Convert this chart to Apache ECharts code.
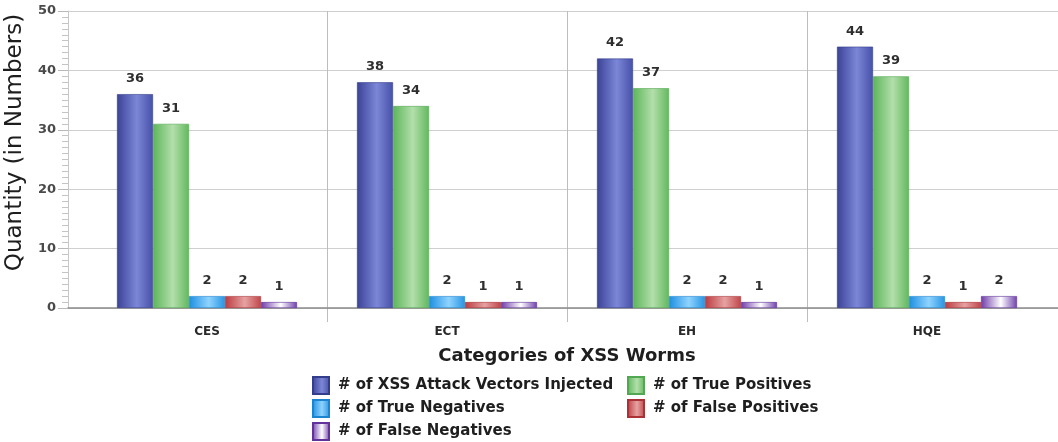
<!DOCTYPE html>
<html>
<head>
<meta charset="utf-8">
<script src="https://cdn.jsdelivr.net/npm/echarts@6/dist/echarts.min.js"></script>
<style>
  html, body { margin: 0; padding: 0; background: #ffffff; }
  #chart { width: 1058px; height: 442px; }
</style>
</head>
<body>
<div id="chart"></div>
<script>
// Worm categories on the x axis
const categories = ['CES', 'ECT', 'EH', 'HQE'];

// Detection results per category
const attackVectors   = [36, 38, 42, 44];
const truePositives   = [31, 34, 37, 39];
const trueNegatives   = [2, 2, 2, 2];
const falsePositives  = [2, 1, 2, 1];
const falseNegatives  = [1, 1, 1, 2];

const seriesNames = [
  '# of XSS Attack Vectors Injected',
  '# of True Positives',
  '# of True Negatives',
  '# of False Positives',
  '# of False Negatives'
];

const yTicks = [0, 10, 20, 30, 40, 50];

const FONT = '"DejaVu Sans", Verdana, sans-serif';

// Plot geometry (pixels)
const PLOT_TOP = 11;
const PLOT_BOTTOM = 134;          // distance from the chart's bottom edge to the zero line
const PLOT_H = 442 - PLOT_TOP - PLOT_BOTTOM;
const SEP_DROP = 14;              // separators run this far below the zero line

const yMax = yTicks[yTicks.length - 1];

// Horizontal shading for the cylinder-like bars
function shade(edgeL, mid, edgeR) {
  return {
    type: 'linear', x: 0, y: 0, x2: 1, y2: 0,
    colorStops: [
      { offset: 0, color: edgeL },
      { offset: 0.55, color: mid },
      { offset: 1, color: edgeR }
    ]
  };
}
const fills = [
  shade('#3a4296', '#7c87d8', '#4550a8'),
  shade('#5cb55a', '#b3dfab', '#62b85e'),
  shade('#1e8fe0', '#8ed3ff', '#2894e2'),
  shade('#bb3a3e', '#e6a2a2', '#c04448'),
  shade('#6e3aa8', '#ffffff', '#7040ac')
];
const borders = ['#343c8c', '#52a852', '#1a84d0', '#aa3236', '#60329a'];

const valueSets = [attackVectors, truePositives, trueNegatives, falsePositives, falseNegatives];

const chart = echarts.init(document.getElementById('chart'), null, { renderer: 'canvas' });

const legendText = {
  color: '#1e1e1e', fontFamily: FONT, fontWeight: 'bold', fontSize: 15,
  padding: [0, 0, 0, 4]
};
const legendBase = {
  top: 376, height: 66, padding: 0, orient: 'vertical',
  itemGap: 4, itemWidth: 16, itemHeight: 17, icon: 'rect', textStyle: legendText
};

const option = {
  backgroundColor: '#ffffff',
  animation: false,
  grid: [
    // value grid: gridlines, y ticks and the baseline
    { left: 68, right: 0, top: PLOT_TOP, bottom: PLOT_BOTTOM, containLabel: false, outerBoundsMode: 'none' },
    // bar grid: extends a little below the baseline so the group separators drop past it
    { left: 87, right: 11, top: PLOT_TOP, bottom: PLOT_BOTTOM - SEP_DROP, containLabel: false, outerBoundsMode: 'none' }
  ],
  xAxis: [
    {
      gridIndex: 0, type: 'value', min: 0, max: 1,
      axisLine: { show: true, lineStyle: { color: '#8a8a8a', width: 1.5 } },
      axisTick: { show: false }, axisLabel: { show: false }, splitLine: { show: false }
    },
    {
      gridIndex: 1, type: 'category',
      data: categories,
      axisLine: { show: false },
      axisTick: { show: false },
      splitLine: {
        show: true, interval: 0, showMinLine: false, showMaxLine: false,
        lineStyle: { color: '#bdbdbd', width: 1 }
      },
      axisLabel: {
        interval: 0, margin: 4, color: '#2a2a2a',
        fontFamily: FONT, fontWeight: 'bold', fontSize: 12
      },
      name: 'Categories of XSS Worms',
      nameLocation: 'middle', nameGap: 25,
      nameTextStyle: { color: '#1e1e1e', fontFamily: FONT, fontWeight: 'bold', fontSize: 18 }
    }
  ],
  yAxis: [
    {
      gridIndex: 0, type: 'value', min: yTicks[0], max: yMax, interval: 10,
      axisLine: { show: true, lineStyle: { color: '#c8c8c8' } },
      axisTick: { show: true, length: 10, lineStyle: { color: '#b8b8b8' } },
      minorTick: { show: true, splitNumber: 10, length: 6, lineStyle: { color: '#c4c4c4' } },
      splitLine: { show: true, lineStyle: { color: '#cfcfcf', width: 1.2 } },
      axisLabel: { margin: 12, color: '#4a4a4a', fontFamily: FONT, fontWeight: 'bold', fontSize: 13 },
      name: 'Quantity (in Numbers)',
      nameLocation: 'middle', nameGap: 37, nameRotate: 90,
      nameTextStyle: { color: '#1e1e1e', fontFamily: FONT, fontSize: 23, padding: [0, 0, 0, 34] }
    },
    {
      // same scale as the value grid, with room for the separator drop below zero
      gridIndex: 1, type: 'value',
      min: -yMax * SEP_DROP / PLOT_H, max: yMax, show: false
    }
  ],
  legend: [
    Object.assign({}, legendBase, { left: 312, data: [seriesNames[0], seriesNames[2], seriesNames[4]] }),
    Object.assign({}, legendBase, { left: 627, data: [seriesNames[1], seriesNames[3]] })
  ],
  series: valueSets.map((vals, k) => ({
    name: seriesNames[k],
    type: 'bar',
    xAxisIndex: 1, yAxisIndex: 1,
    data: vals,
    barWidth: 36,
    barGap: '0%',
    itemStyle: { color: fills[k], borderColor: borders[k], borderWidth: 0.6 },
    label: {
      show: true, position: 'top', distance: 9,
      color: '#2e2e2e', fontFamily: FONT, fontWeight: 'bold', fontSize: 13
    }
  }))
};

chart.setOption(option);
</script>
</body>
</html>
